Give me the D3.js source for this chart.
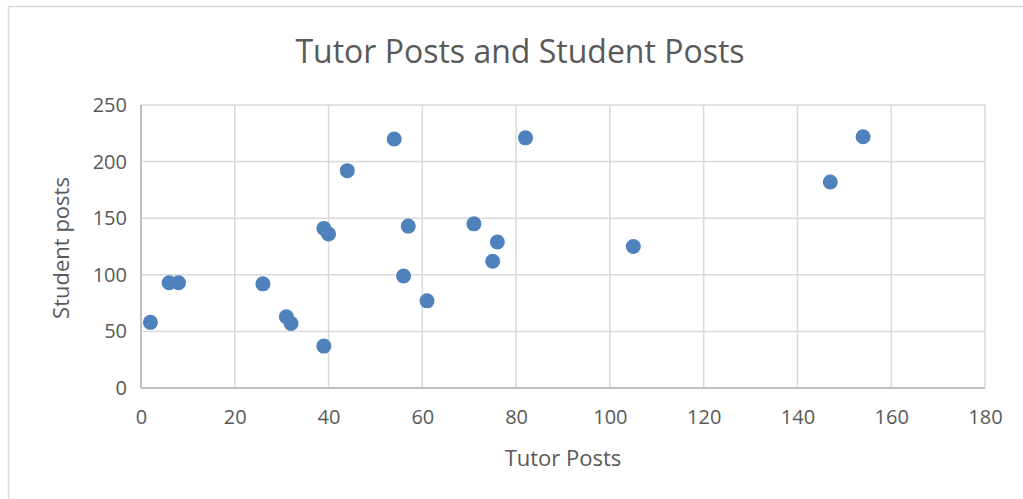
<!DOCTYPE html>
<html lang="en">
<head>
    <meta charset="utf-8">
    <title>Tutor Posts and Student Posts</title>
    <style>
        body { margin: 0; background: #fff; }
        svg { display: block; font-family: "Open Sans", sans-serif; }
        .grid line { stroke: #d9d9d9; stroke-width: 1.5px; }
        .axis { font-family: "Open Sans", sans-serif; }
        .axis text { fill: #595959; font-size: 20px; }
        .axis path, .axis line { stroke: none; }
        .title { fill: #595959; font-size: 32px; }
        .axis-title { fill: #595959; font-size: 22px; }
        circle { fill: #4f81bd; }
    </style>
</head>
<body>
<script src="https://cdn.jsdelivr.net/npm/d3@7"></script>
<script>
    // data
    const tutorPosts   = [2, 6, 8, 26, 31, 32, 39, 39, 40, 44, 54, 56, 57, 61, 71, 75, 76, 82, 105, 147, 154];
    const studentPosts = [58, 93, 93, 92, 63, 57, 37, 141, 136, 192, 220, 99, 143, 77, 145, 112, 129, 221, 125, 182, 222];
    const xTicks = [0, 20, 40, 60, 80, 100, 120, 140, 160, 180];
    const yTicks = [0, 50, 100, 150, 200, 250];

    const width = 1023, height = 499;
    const plot = { left: 141, right: 985, top: 105, bottom: 388 };

    const svg = d3.select('body').append('svg')
        .attr('width', width)
        .attr('height', height);

    // chart frame
    svg.append('rect')
        .attr('x', 8.5).attr('y', 6.5)
        .attr('width', width + 20).attr('height', height + 20)
        .attr('fill', 'none')
        .attr('stroke', '#d9d9d9')
        .attr('stroke-width', 1.5);

    const x = d3.scaleLinear().domain([0, 180]).range([plot.left, plot.right]);
    const y = d3.scaleLinear().domain([0, 250]).range([plot.bottom, plot.top]);

    // gridlines
    const grid = svg.append('g').attr('class', 'grid');
    grid.selectAll('line.v').data(xTicks).join('line')
        .attr('class', 'v')
        .attr('x1', d => x(d)).attr('x2', d => x(d))
        .attr('y1', plot.top).attr('y2', plot.bottom);
    grid.selectAll('line.h').data(yTicks).join('line')
        .attr('class', 'h')
        .attr('x1', plot.left).attr('x2', plot.right)
        .attr('y1', d => y(d)).attr('y2', d => y(d));

    // axis lines (slightly darker)
    svg.append('line')
        .attr('x1', plot.left).attr('x2', plot.right)
        .attr('y1', plot.bottom).attr('y2', plot.bottom)
        .attr('stroke', '#bfbfbf').attr('stroke-width', 2);
    svg.append('line')
        .attr('x1', plot.left).attr('x2', plot.left)
        .attr('y1', plot.top).attr('y2', plot.bottom)
        .attr('stroke', '#bfbfbf').attr('stroke-width', 2);

    // axes: labels only
    svg.append('g')
        .attr('class', 'axis')
        .attr('transform', `translate(0, ${plot.bottom})`)
        .call(d3.axisBottom(x).tickValues(xTicks).tickSize(0).tickPadding(22));
    svg.append('g')
        .attr('class', 'axis')
        .attr('transform', `translate(${plot.left}, 0)`)
        .call(d3.axisLeft(y).tickValues(yTicks).tickSize(0).tickPadding(14));
    svg.selectAll('.axis').attr('font-family', null).attr('font-size', null);

    // points
    svg.append('g')
        .selectAll('circle')
        .data(tutorPosts.map((t, i) => ({ t, s: studentPosts[i] })))
        .join('circle')
            .attr('cx', d => x(d.t))
            .attr('cy', d => y(d.s))
            .attr('r', 7.5);

    // titles
    svg.append('text')
        .attr('class', 'title')
        .attr('x', 520).attr('y', 63)
        .attr('text-anchor', 'middle')
        .text('Tutor Posts and Student Posts');
    svg.append('text')
        .attr('class', 'axis-title')
        .attr('x', 563).attr('y', 466)
        .attr('text-anchor', 'middle')
        .text('Tutor Posts');
    svg.append('text')
        .attr('class', 'axis-title')
        .attr('transform', `translate(69, 248) rotate(-90)`)
        .attr('text-anchor', 'middle')
        .text('Student posts');
</script>
</body>
</html>
